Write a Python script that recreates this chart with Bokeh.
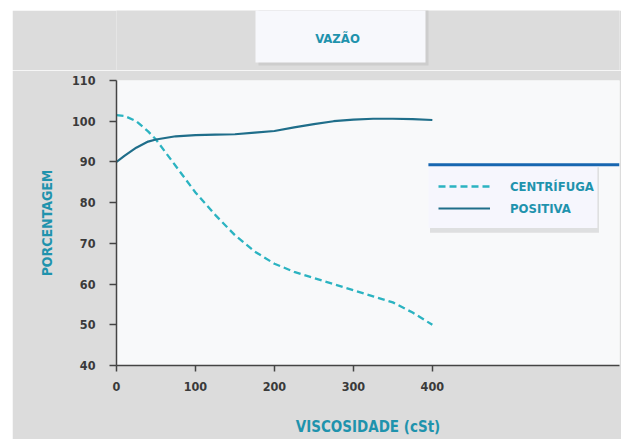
from bokeh.plotting import figure
from bokeh.models import Range1d, FixedTicker, Legend, LegendItem, Spacer
from bokeh.layouts import column, row
from bokeh.embed import file_html
from bokeh.resources import INLINE
from bokeh.core.properties import value

# ---- data ----
visc = [0, 10, 25, 40, 50, 75, 100, 125, 150, 175, 200, 225, 250, 275, 300, 325, 350, 375, 400]
centrifuga = [101.5, 101.3, 100.0, 97.5, 95.5, 89.0, 82.5, 77.0, 72.0, 68.0, 65.0, 63.0, 61.5, 60.0, 58.5, 57.0, 55.5, 53.0, 50.0]
positiva = [90.0, 91.5, 93.5, 95.0, 95.5, 96.3, 96.6, 96.7, 96.8, 97.2, 97.6, 98.5, 99.3, 100.0, 100.4, 100.6, 100.6, 100.5, 100.3]
x_ticks = [0, 100, 200, 300, 400]
y_ticks = [40, 50, 60, 70, 80, 90, 100, 110]
title_text = "VAZÃO"
x_label = "VISCOSIDADE (cSt)"
y_label = "PORCENTAGEM"
series_names = ["CENTRÍFUGA", "POSITIVA"]

FONT = "DejaVu Sans Condensed"
BG = "#dcdcdc"
TEAL = "#1f93ad"
DASH_C = "#2bb3c1"
SOLID_C = "#1f6e8a"

# ---- top strip with title box (frame aligned with main chart frame) ----
top = figure(width=609, height=60, output_backend="svg", toolbar_location=None,
             x_range=Range1d(0, 503), y_range=Range1d(60, 0),
             min_border_left=104, min_border_right=2, min_border_top=0, min_border_bottom=0)
top.axis.visible = False
top.grid.visible = False
top.outline_line_color = None
top.background_fill_color = BG
top.border_fill_color = BG
top.quad(left=[142], right=[312], top=[-2], bottom=[55], color="#bdbdbd", alpha=0.5, line_color=None)
top.quad(left=[139], right=[309], top=[-2], bottom=[52], color="#f7f8fc", line_color=None)
top.text(x=[221], y=[28], text=[title_text], text_align="center", text_baseline="middle",
         text_font=value(FONT), text_font_style="bold", text_font_size="13px", text_color=TEAL)

# ---- main chart ----
p = figure(width=609, height=369, output_backend="svg", toolbar_location=None,
           x_range=Range1d(0, 637), y_range=Range1d(40, 110),
           min_border_left=104, min_border_right=2, min_border_top=10, min_border_bottom=74)
p.background_fill_color = "#f8f9fa"
p.border_fill_color = BG
p.outline_line_color = None
p.grid.visible = False

# legend background & blue bar
p.quad(left=[397], right=[611], top=[88.7], bottom=[72.6], color="#b0b0b0", alpha=0.35, line_color=None)
p.quad(left=[395], right=[609], top=[89.3], bottom=[73.8], color="#f6f6fd", line_color=None)
p.segment(x0=[395], y0=[89.3], x1=[637], y1=[89.3], line_color="#1766b0", line_width=3)

r1 = p.line(visc, centrifuga, line_color=DASH_C, line_width=2.3, line_dash="7 4")
r2 = p.line(visc, positiva, line_color=SOLID_C, line_width=2.2)

legend = Legend(items=[LegendItem(label=series_names[0], renderers=[r1]),
                       LegendItem(label=series_names[1], renderers=[r2])],
                location=(322, 147), padding=10, spacing=2, glyph_width=52, glyph_height=20,
                label_height=20, label_standoff=20, margin=0,
                background_fill_alpha=0, border_line_color=None,
                label_text_font=FONT, label_text_font_style="bold",
                label_text_font_size="13px", label_text_color=TEAL)
p.add_layout(legend)

for ax in (p.xaxis[0], p.yaxis[0]):
    ax.axis_line_color = "#444444"
    ax.axis_line_width = 1.5
    ax.major_tick_line_color = "#444444"
    ax.major_tick_line_width = 1.5
    ax.major_tick_in = 0
    ax.minor_tick_line_color = None
    ax.major_label_text_font = FONT
    ax.major_label_text_font_style = "bold"
    ax.major_label_text_font_size = "12.5px"
    ax.major_label_text_color = "#3a3a3a"
    ax.axis_label_text_font = FONT
    ax.axis_label_text_font_style = "bold"
    ax.axis_label_text_color = TEAL

p.xaxis.ticker = FixedTicker(ticks=x_ticks)
p.yaxis.ticker = FixedTicker(ticks=y_ticks)
p.xaxis.major_tick_out = 6
p.yaxis.major_tick_out = 7
p.xaxis.major_label_standoff = 10
p.yaxis.major_label_standoff = 14
p.xaxis.axis_label = x_label
p.yaxis.axis_label = y_label
p.xaxis.axis_label_text_font_size = "15px"
p.yaxis.axis_label_text_font_size = "14px"
p.xaxis.axis_label_standoff = 24
p.yaxis.axis_label_standoff = 14

layout = column(Spacer(height=10), row(Spacer(width=12), column(top, p)))
open("out.html", "w").write(file_html(layout, INLINE))
